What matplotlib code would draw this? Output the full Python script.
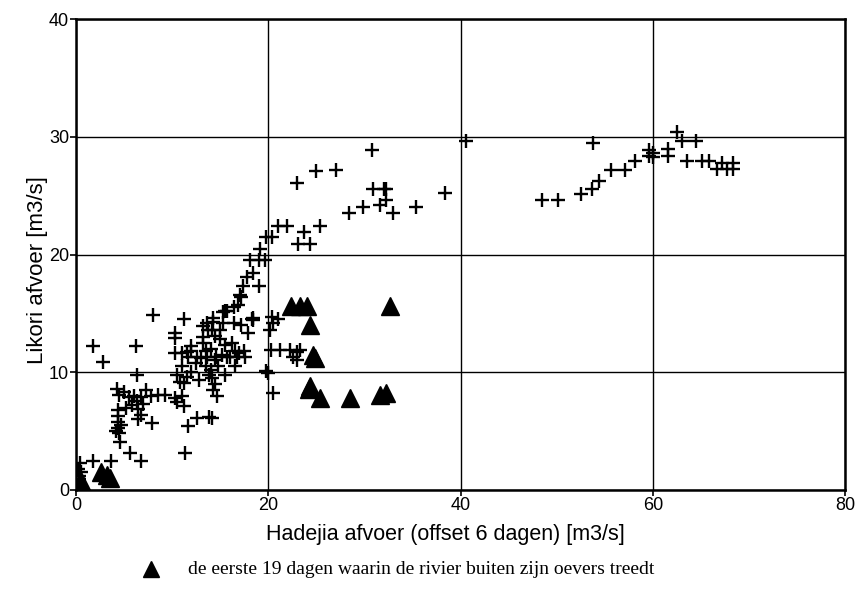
import matplotlib
matplotlib.use("Agg")
import matplotlib.pyplot as plt

# crosses: all days
cross_x = [48.5, 50.1, 52.5, 53.7, 54.4, 53.8, 55.7, 57.1, 58.2, 59.6, 59.6, 60.0, 60.0,
           61.6, 61.6, 62.5, 63.0, 64.5, 63.6, 65.1, 65.9, 66.7, 67.2, 68.3, 67.7, 68.4,
           30.8, 25.0, 27.1, 23.0, 30.9, 32.0, 32.3, 32.2, 31.6, 29.9, 28.4, 33.0, 35.4, 38.4, 40.6,
           21.0, 21.9, 23.7, 25.4, 23.1, 24.3, 19.8, 20.4, 19.1, 18.1, 19.0, 19.7, 18.4, 17.8,
           17.4, 19.0, 17.2, 16.9, 15.7, 14.3, 18.4, 17.1, 15.5,
           13.6, 15.3, 16.4, 17.2, 18.3, 17.9, 14.2, 15.0, 20.4, 20.5, 21.0, 20.2,
           20.3, 21.2, 22.3, 23.0, 23.3, 22.6, 23.0, 19.8, 20.0, 20.5,
           8.0, 11.2, 1.8, 2.8, 6.2, 10.3, 10.3, 10.3, 13.2, 14.3, 18.4, 15.3, 16.4,
           4.3, 4.5, 5.0, 5.5, 6.0, 6.3, 6.8, 7.3, 7.8, 8.5, 9.3, 5.8, 6.4, 6.8, 7.0, 6.5, 7.9, 5.2,
           4.4, 4.4, 4.4, 4.4, 4.5, 4.6, 4.2, 4.7, 5.6, 6.8, 6.3,
           10.5, 11.2, 10.3, 11.0, 10.8, 11.5, 11.0, 12.0, 12.5, 13.0, 13.5, 13.2, 14.0, 14.5,
           14.0, 14.8, 15.2, 15.5, 16.0, 16.5, 17.0, 17.5, 14.2, 14.5, 14.3, 14.7, 13.5, 13.8,
           12.8, 13.2, 12.0, 11.5, 15.0, 16.2, 14.5, 13.7, 15.5, 16.5, 12.6, 14.1, 13.8, 11.7,
           11.3, 11.0, 12.0, 11.7, 12.6, 13.6, 14.6, 15.7, 16.7, 17.6, 10.5, 11.2,
           0.4, 0.2, 0.3, 1.8, 3.6, 0.5, 0.3, 0.1]
cross_y = [24.6, 24.6, 25.1, 25.6, 26.2, 29.5, 27.2, 27.2, 27.9, 28.9, 28.4, 28.6, 28.3,
           29.0, 28.4, 30.4, 29.6, 29.6, 27.9, 27.9, 27.9, 27.3, 27.8, 27.8, 27.3, 27.3,
           28.9, 27.1, 27.2, 26.1, 25.6, 25.6, 25.6, 24.6, 24.2, 24.0, 23.5, 23.5, 24.0, 25.2, 29.6,
           22.4, 22.4, 21.9, 22.4, 20.9, 20.9, 21.5, 21.5, 20.5, 19.5, 19.5, 19.5, 18.4, 18.1,
           17.3, 17.3, 16.4, 15.7, 15.2, 14.6, 14.6, 16.6, 15.2,
           14.2, 14.2, 14.2, 14.0, 14.5, 13.3, 13.6, 13.6, 14.7, 14.2, 14.5, 13.6,
           11.9, 11.9, 11.9, 11.7, 11.9, 11.3, 11.0, 10.1, 9.9, 8.2,
           14.9, 14.5, 12.2, 10.9, 12.2, 13.3, 12.9, 11.6, 13.9, 14.3, 14.4, 15.1, 15.5,
           8.6, 8.1, 8.3, 7.9, 8.0, 7.6, 7.9, 8.5, 8.0, 8.1, 8.1, 7.2, 6.9, 6.4, 7.3, 6.0, 5.7, 7.0,
           6.8, 6.3, 5.8, 5.3, 4.8, 4.1, 5.0, 5.5, 3.1, 2.5, 9.8,
           7.5, 7.1, 7.8, 8.0, 9.2, 9.6, 10.5, 10.0, 10.8, 11.2, 11.8, 12.5, 12.0, 11.0,
           10.2, 10.5, 11.5, 12.3, 11.3, 11.8, 11.6, 11.8, 9.5, 9.0, 8.5, 8.0, 10.5, 9.8,
           9.3, 13.0, 11.8, 11.7, 12.8, 12.5, 13.1, 13.6, 9.8, 10.5, 6.1, 6.1, 6.2, 5.4,
           3.1, 11.6, 12.2, 11.3, 11.3, 11.3, 11.3, 11.3, 11.3, 11.3, 9.8, 9.1,
           2.3, 1.8, 1.2, 2.5, 2.5, 1.5, 0.9, 0.3]

# triangles: first 19 days of overbank flow
tri_x = [22.4, 23.3, 24.0, 32.7, 24.3, 24.7, 24.9, 24.2, 24.3, 25.4, 28.5, 31.6, 32.3,
         2.6, 3.2, 3.5, 0.3, 0.5, 0.2]
tri_y = [15.6, 15.6, 15.6, 15.6, 14.0, 11.5, 11.2, 8.6, 8.8, 7.8, 7.8, 8.1, 8.2,
         1.5, 1.3, 1.0, 0.4, 0.8, 0.2]

x_ticks = [0, 20, 40, 60, 80]
y_ticks = [0, 10, 20, 30, 40]
x_label = "Hadejia afvoer (offset 6 dagen) [m3/s]"
y_label = "Likori afvoer [m3/s]"
legend_text = "de eerste 19 dagen waarin de rivier buiten zijn oevers treedt"

plt.rcParams['font.family'] = ['Liberation Sans', 'DejaVu Sans']

fig = plt.figure(figsize=(8.6, 6.1), dpi=100)
ax = fig.add_axes([76/860, 120/610, 769/860, 471/610])

ax.plot(cross_x, cross_y, linestyle='none', marker='+', markersize=10,
        markeredgewidth=1.7, color='black', zorder=3)
ax.plot(tri_x, tri_y, linestyle='none', marker='^', markersize=13,
        color='black', zorder=4)

ax.set_xlim(0, 80)
ax.set_ylim(0, 40)
ax.set_xticks(x_ticks)
ax.set_yticks(y_ticks)
ax.grid(True, color='black', linewidth=1.0)
ax.set_axisbelow(True)
for s in ax.spines.values():
    s.set_linewidth(1.8)
ax.tick_params(direction='out', length=4, width=1.2, labelsize=13, pad=1, colors='black')
ax.set_xlabel(x_label, fontsize=15.5)
ax.set_ylabel(y_label, fontsize=16)
ax.xaxis.set_label_coords(0.48, -0.072)
ax.yaxis.set_label_coords(-0.036, 0.467)

fig.add_artist(plt.Line2D([151/860], [1 - 569/610], marker='^', markersize=12,
                          color='black', linestyle='none', transform=fig.transFigure))
fig.text(188/860, 1 - 570/610, legend_text, fontsize=14, family='Liberation Serif',
         va='center', ha='left')

fig.savefig("out.png", dpi=100)
